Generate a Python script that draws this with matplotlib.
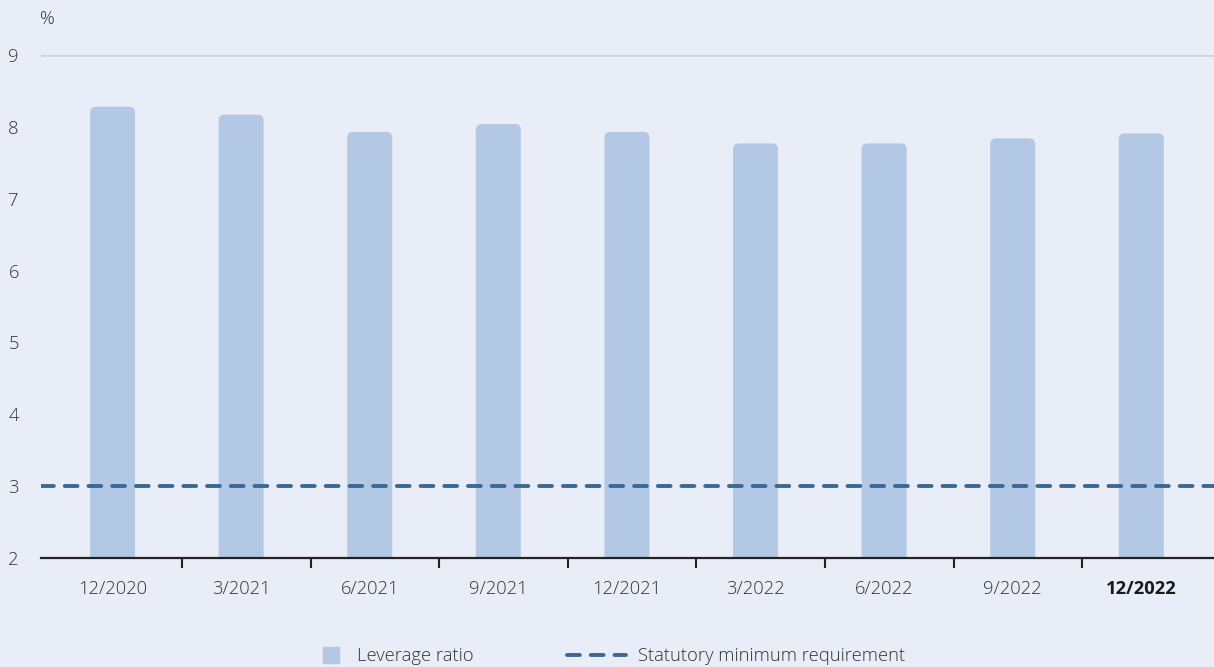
import matplotlib.pyplot as plt
from matplotlib.patches import FancyBboxPatch
from matplotlib.lines import Line2D

plt.rcParams['font.family'] = ['Open Sans', 'DejaVu Sans']
plt.rcParams['font.weight'] = 'light'

quarters = ["12/2020", "3/2021", "6/2021", "9/2021", "12/2021",
            "3/2022", "6/2022", "9/2022", "12/2022"]
leverage = [8.28, 8.17, 7.93, 8.04, 7.93, 7.77, 7.77, 7.84, 7.91]
minimum = 3

BG = "#e9edf7"
BAR = "#b3c8e5"
LINE = "#3b6894"
TXT = "#333333"
FS = 13.2
DASH = (0, (3.3, 2.8))

fig = plt.figure(figsize=(12.14, 6.67), dpi=100, facecolor=BG)
ax = fig.add_axes([0.0338, 0.1634, 0.9662, 0.7541], facecolor=BG)

w = 0.35
for i, v in enumerate(leverage):
    ax.add_patch(FancyBboxPatch((i - w / 2, 1.0), w, v - 1.0,
                                boxstyle="round,pad=0,rounding_size=0.045",
                                mutation_aspect=1.79, fc=BAR, ec="none", zorder=2))

ax.axhline(9, color="#cfd2d9", lw=1.8, zorder=1)
ax.axhline(minimum, color=LINE, lw=2.8, ls=DASH, dash_capstyle="round", zorder=3)

ax.set_xlim(-0.556, 8.565)
ax.set_ylim(2, 9)
for s in ["top", "right", "left"]:
    ax.spines[s].set_visible(False)
ax.spines["bottom"].set_color("#222222")
ax.spines["bottom"].set_linewidth(1.6)
ax.spines["bottom"].set_zorder(4)

ax.set_yticks(range(2, 10))
ax.tick_params(axis="y", length=0, pad=16, labelsize=FS, labelcolor=TXT)
ax.set_xticks(range(len(quarters)))
ax.set_xticklabels(quarters)
ax.tick_params(axis="x", length=0, pad=16, labelsize=FS, labelcolor=TXT)
ax.get_xticklabels()[-1].set_fontweight("bold")
ax.get_xticklabels()[-1].set_color("#1a1a1a")
ax.set_xticks([i + 0.54 for i in range(len(quarters) - 1)], minor=True)
ax.tick_params(axis="x", which="minor", length=7, width=1.5, color="#222222")

fig.text(0.033, 0.972, "%", fontsize=FS, color=TXT, va="center")

fig.legend([Line2D([], [], color=BAR, lw=0, marker="s", ms=11)],
           ["Leverage ratio"], loc="center left",
           bbox_to_anchor=(320 / 1214, 0.016), frameon=False, fontsize=FS,
           labelcolor=TXT, handlelength=1.2, handletextpad=0.8,
           borderpad=0, borderaxespad=0)
fig.legend([Line2D([], [], color=LINE, lw=2.8, ls=DASH, dash_capstyle="round")],
           ["Statutory minimum requirement"], loc="center left",
           bbox_to_anchor=(567 / 1214, 0.016), frameon=False, fontsize=FS,
           labelcolor=TXT, handlelength=3.2, handletextpad=0.7,
           borderpad=0, borderaxespad=0)

fig.savefig("out.png", dpi=100, facecolor=BG)
